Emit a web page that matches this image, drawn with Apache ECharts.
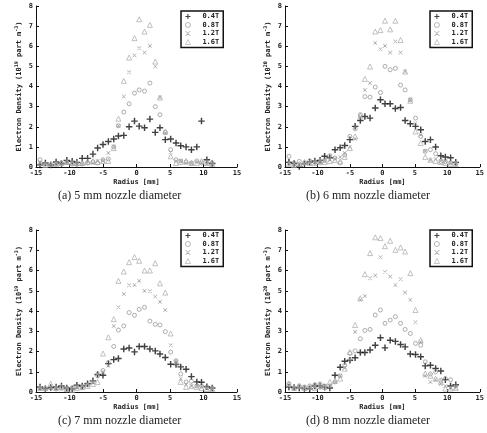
<!DOCTYPE html>
<html><head><meta charset="utf-8">
<script src="https://cdn.jsdelivr.net/npm/echarts@6/dist/echarts.min.js"></script>
<style>html,body{margin:0;padding:0;background:#fff}#c{width:487px;height:433px}</style>
</head><body><div id="c"></div>
<script>
// Radius (mm) sample positions, shared by all panels
const radius = [-14.4,-13.6,-12.8,-12.0,-11.2,-10.4,-9.6,-8.9,-8.1,-7.3,-6.5,-5.8,-5.0,-4.2,-3.4,-2.7,-1.9,-1.1,-0.3,0.4,1.2,2.0,2.8,3.5,4.3,5.1,5.9,6.6,7.4,8.2,9.0,9.7,10.5,11.3];
const fieldNames = ['0.4T','0.8T','1.2T','1.6T'];
const captions = ['(a) 5 mm nozzle diameter','(b) 6 mm nozzle diameter','(c) 7 mm nozzle diameter','(d) 8 mm nozzle diameter'];
const yExponents = ['19','20','19','20'];
const xTicks = [-15,-10,-5,0,5,10,15];
const yTicks = [0,1,2,3,4,5,6,7,8];

// (a) 5 mm
const a04 = [0.1,0.2,0.1,0.25,0.17,0.33,0.28,0.23,0.43,0.43,0.64,0.94,1.12,1.27,1.39,1.54,1.57,2.0,2.28,2.03,1.95,2.38,1.72,1.95,1.36,1.39,1.19,1.06,1.0,0.86,1.0,2.28,0.36,0.17];
const a08 = [0.36,0.15,0.1,0.15,0.2,0.22,0.15,0.12,0.15,0.2,0.25,0.2,0.36,0.4,1.0,2.05,2.73,3.14,3.67,3.83,3.77,4.17,3.0,2.6,1.72,0.86,0.36,0.3,0.25,0.2,0.3,0.2,0.25,0.2];
const a12 = [0.2,0.15,0.1,0.2,0.15,0.2,0.2,0.15,0.15,0.2,0.2,0.3,0.3,0.7,1.02,2.05,3.5,4.71,5.54,5.9,5.69,6.02,5.0,3.45,1.69,0.73,0.3,0.3,0.2,0.2,0.25,0.2,0.15,0.15];
const a16 = [0.2,0.1,0.15,0.15,0.2,0.25,0.2,0.2,0.2,0.25,0.3,0.25,0.3,0.3,0.94,2.4,4.28,5.44,6.4,7.34,6.73,7.06,5.24,3.45,1.77,0.53,0.2,0.25,0.3,0.2,0.2,0.3,0.2,0.15];
// (b) 6 mm
const b04 = [0.23,0.17,0.03,0.15,0.25,0.3,0.33,0.53,0.46,0.86,0.96,1.07,1.36,2.02,2.31,2.51,2.43,2.93,3.34,3.14,3.14,2.91,2.96,2.31,2.15,2.02,1.85,1.27,1.36,0.99,0.56,0.5,0.46,0.23];
const b08 = [0.53,0.2,0.28,0.2,0.3,0.25,0.2,0.33,0.56,0.45,0.2,0.6,1.52,1.9,2.6,3.5,3.47,3.97,3.7,5.0,4.83,4.9,4.07,3.83,3.34,2.43,1.52,0.78,0.86,0.66,0.28,0.26,0.2,0.17];
const b12 = [0.2,0.15,0.1,0.2,0.2,0.25,0.3,0.3,0.35,0.4,0.5,0.7,1.0,1.4,2.5,3.83,4.17,6.18,5.85,6.03,5.69,6.23,5.69,4.74,3.34,2.18,1.6,0.8,0.35,0.4,0.3,0.3,0.2,0.2];
const b16 = [0.15,0.1,0.15,0.25,0.2,0.2,0.3,0.25,0.3,0.35,0.28,0.5,0.94,1.52,2.55,4.38,4.99,6.73,6.8,7.27,6.84,7.27,6.31,4.74,3.29,1.77,1.19,0.5,0.36,0.3,0.25,0.2,0.15,0.15];
// (c) 7 mm
const c04 = [0.25,0.17,0.22,0.25,0.3,0.2,0.15,0.33,0.3,0.41,0.55,0.86,0.83,1.4,1.6,1.65,2.12,2.17,1.98,2.25,2.25,2.12,2.03,1.88,1.7,1.37,1.36,1.24,1.12,0.76,0.5,0.48,0.26,0.2];
const c08 = [0.2,0.15,0.2,0.15,0.2,0.1,0.2,0.25,0.2,0.35,0.5,0.8,1.06,1.45,2.25,3.06,3.26,3.92,3.79,4.08,4.18,3.5,3.34,3.31,2.98,1.97,1.54,0.89,0.5,0.53,0.3,0.3,0.25,0.2];
const c12 = [0.2,0.15,0.2,0.2,0.15,0.2,0.2,0.25,0.3,0.4,0.5,0.9,1.0,1.3,3.26,4.18,4.84,5.27,5.29,5.49,5.0,4.98,4.71,4.46,4.05,2.31,1.49,0.66,0.4,0.3,0.3,0.25,0.2,0.15];
const c16 = [0.2,0.2,0.41,0.2,0.25,0.15,0.1,0.2,0.25,0.3,0.4,0.5,1.9,2.7,3.6,5.49,5.95,6.41,6.66,6.48,6.0,6.0,6.36,5.37,4.91,2.89,1.5,0.5,0.25,0.3,0.25,0.2,0.15,0.15];
// (d) 8 mm
const d04 = [0.25,0.22,0.2,0.17,0.15,0.3,0.3,0.23,0.2,0.83,1.22,1.52,1.57,1.69,1.95,1.95,2.07,2.31,2.68,2.18,2.56,2.5,2.35,2.23,1.88,1.85,1.74,1.29,1.32,1.16,1.04,0.61,0.3,0.36];
const d08 = [0.41,0.2,0.3,0.25,0.3,0.35,0.4,0.3,0.3,0.5,0.8,1.32,1.9,2.03,2.63,3.04,3.09,3.8,4.05,3.39,3.55,3.72,3.39,3.09,2.89,2.4,2.31,1.49,0.89,0.99,0.58,0.66,0.61,0.3];
const d12 = [0.3,0.2,0.25,0.2,0.2,0.3,0.25,0.3,0.3,0.5,0.8,1.2,1.6,2.98,4.55,4.74,5.62,5.75,6.65,5.92,5.7,5.29,5.57,4.91,4.55,3.44,2.48,0.8,0.5,0.6,0.4,0.3,0.2,0.2];
const d16 = [0.41,0.2,0.3,0.2,0.25,0.2,0.3,0.25,0.5,0.55,0.66,1.15,1.98,3.31,4.63,5.82,6.86,7.64,7.6,7.2,7.47,7.02,7.14,6.94,5.87,4.05,2.56,0.91,0.8,0.66,0.5,0.17,0.17,0.2];

const panels = [[a04,a08,a12,a16],[b04,b08,b12,b16],[c04,c08,c12,c16],[d04,d08,d12,d16]];

// ---- layout / styles ----
const grids = [
  {left:36, top:6, width:201, height:161},
  {left:285, top:6, width:202, height:161},
  {left:36, top:230, width:201, height:162},
  {left:285, top:230, width:202, height:162}
];
const legendPos = [[181,11],[430,11],[181,230],[430,230]];
const captionPos = [[127,197],[375,197],[127,422],[375,422]];
const MONO = '"DejaVu Sans Mono", "Liberation Mono", monospace';
const PLUS = 'path://M0,3.9L10,3.9L10,6.1L0,6.1Z M3.9,0L6.1,0L6.1,10L3.9,10Z';
const CROSS = 'path://M0,0L1.2,0L10,8.8L10,10L8.8,10L0,1.2Z M8.8,0L10,0L10,1.2L1.2,10L0,10L0,8.8Z';
const styles = [
  {symbol:PLUS, symbolSize:6.5, itemStyle:{color:'#111'}},
  {symbol:'circle', symbolSize:4, itemStyle:{color:'rgba(255,255,255,0)', borderColor:'#8e8e8e', borderWidth:0.9}},
  {symbol:CROSS, symbolSize:4, itemStyle:{color:'#9a9a9a'}},
  {symbol:'triangle', symbolSize:5, itemStyle:{color:'rgba(255,255,255,0)', borderColor:'#a8a8a8', borderWidth:0.9}}
];
const legendIcons = [
  {icon:PLUS, itemStyle:{color:'#111', borderWidth:0}},
  {icon:'circle', itemStyle:{color:'rgba(255,255,255,0)', borderColor:'#8e8e8e', borderWidth:0.8}},
  {icon:CROSS, itemStyle:{color:'#9a9a9a', borderWidth:0}},
  {icon:'triangle', itemStyle:{color:'rgba(255,255,255,0)', borderColor:'#a8a8a8', borderWidth:0.8}}
];

const xAxes = [], yAxes = [], series = [], legends = [], graphics = [];
grids.forEach((g, p) => {
  xAxes.push({
    gridIndex:p, type:'value', min:xTicks[0], max:xTicks[xTicks.length-1], interval:5,
    name:'Radius [mm]', nameLocation:'middle', nameGap:12,
    nameTextStyle:{fontFamily:MONO, fontSize:7, fontWeight:'bold', color:'#222'},
    axisLine:{onZero:false, lineStyle:{color:'#111', width:1}},
    axisTick:{inside:true, length:3, lineStyle:{color:'#111'}},
    axisLabel:{fontFamily:MONO, fontSize:7, fontWeight:'bold', color:'#222', margin:3},
    splitLine:{show:false}
  });
  yAxes.push({
    gridIndex:p, type:'value', min:yTicks[0], max:yTicks[yTicks.length-1], interval:1,
    name:'Electron Density (10{s|' + yExponents[p] + '} part m{s|-3})',
    nameLocation:'middle', nameGap:12, nameRotate:90,
    nameTextStyle:{fontFamily:MONO, fontSize:7, fontWeight:'bold', color:'#222',
      rich:{s:{fontFamily:MONO, fontSize:5, fontWeight:'bold', color:'#222', verticalAlign:'top', padding:[0,0,5,0]}}},
    axisLine:{show:true, onZero:false, lineStyle:{color:'#111', width:1}},
    axisTick:{show:true, inside:true, length:3, lineStyle:{color:'#111'}},
    axisLabel:{fontFamily:MONO, fontSize:7, fontWeight:'bold', color:'#222', margin:3},
    splitLine:{show:false}
  });
  panels[p].forEach((vals, k) => {
    series.push(Object.assign({
      type:'scatter', name:fieldNames[k], xAxisIndex:p, yAxisIndex:p,
      data: radius.map((r, i) => [r, vals[i]]), animation:false, silent:true
    }, JSON.parse(JSON.stringify(styles[k]))));
  });
  legends.push({
    data:fieldNames.map((n, k) => ({name:n, icon:legendIcons[k].icon, itemStyle:legendIcons[k].itemStyle})),
    orient:'vertical', left:legendPos[p][0], top:legendPos[p][1],
    backgroundColor:'#fff', borderColor:'#111', borderWidth:1.5, borderRadius:0,
    padding:[2,4,2,4], itemGap:1.5, itemWidth:5, itemHeight:5, selectedMode:false,
    textStyle:{fontFamily:MONO, fontSize:7, fontWeight:'bold', color:'#222', padding:[0,0,0,7]}
  });
  graphics.push({
    type:'text', left:captionPos[p][0]-69, top:captionPos[p][1]-7,
    style:{text:captions[p], font:'12px "Liberation Serif", "DejaVu Serif", serif', fill:'#222'}
  });
});

const chart = echarts.init(document.getElementById('c'), null, {renderer:'canvas'});
chart.setOption({
  animation:false,
  grid:grids, xAxis:xAxes, yAxis:yAxes, series:series, legend:legends, graphic:graphics
});
</script>
</body></html>
